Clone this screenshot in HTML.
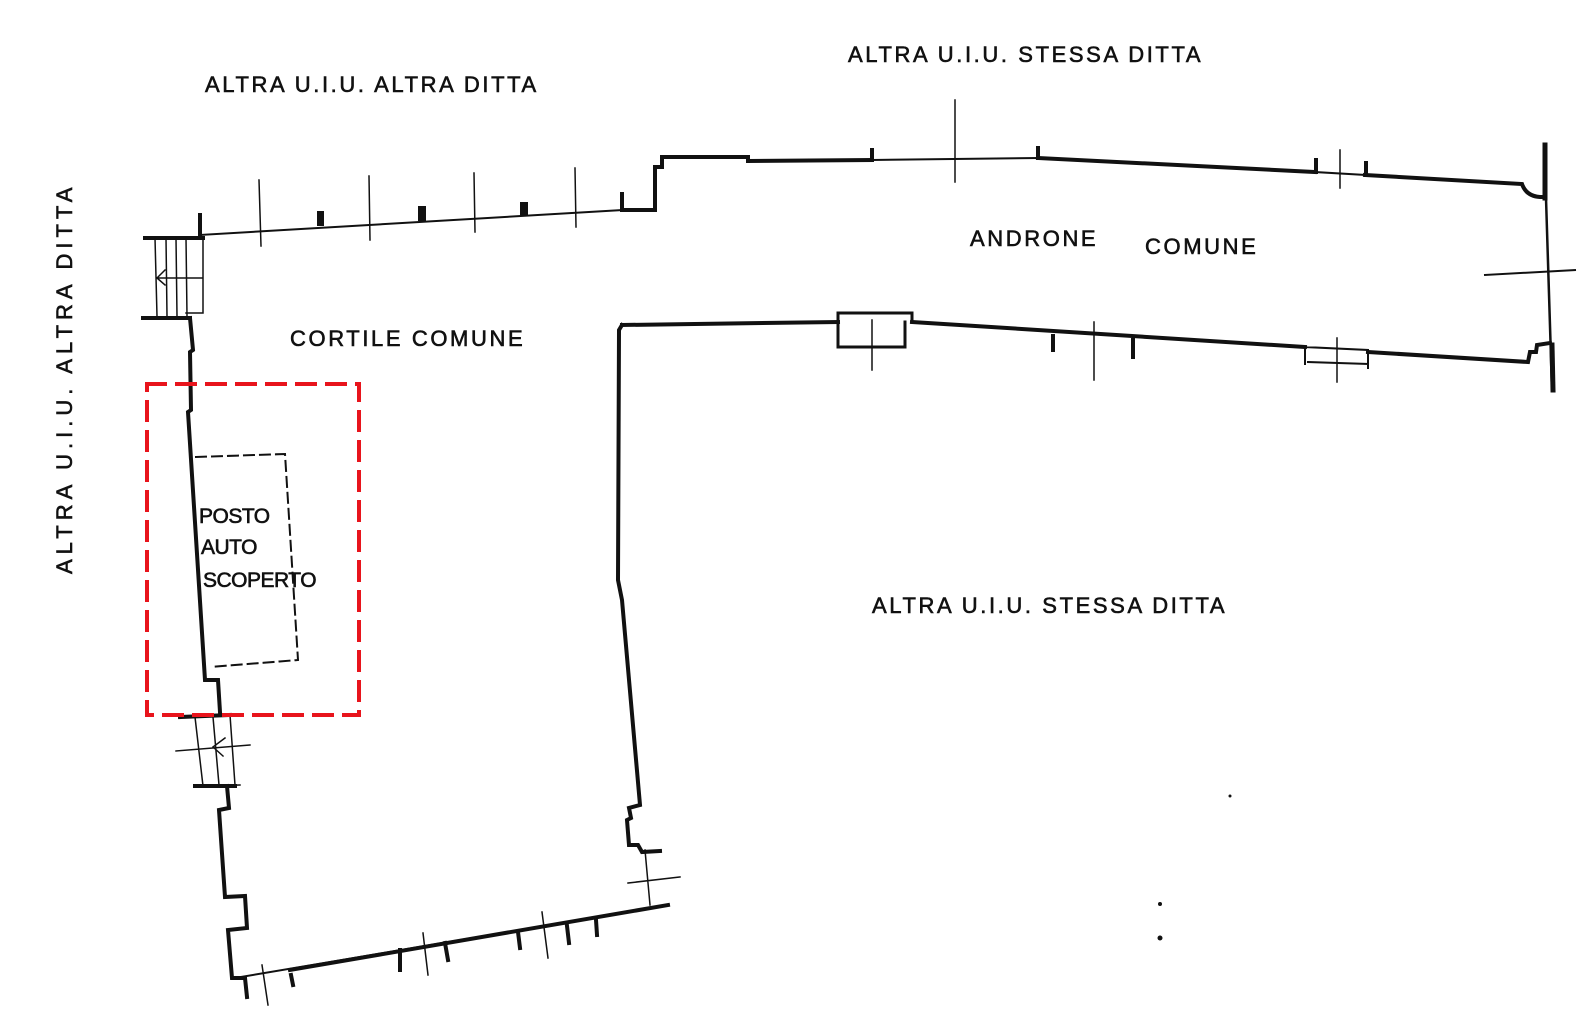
<!DOCTYPE html>
<html><head><meta charset="utf-8"><style>
html,body{margin:0;padding:0;background:#fff;}
svg{display:block}
text{font-family:"Liberation Sans",sans-serif;fill:#111;stroke:#111;stroke-width:0.6;}
</style></head><body>
<svg width="1580" height="1036" viewBox="0 0 1580 1036" xmlns="http://www.w3.org/2000/svg">
<g stroke="#111" fill="none" stroke-linecap="square">
<path d="M200,235 L622,210" stroke-width="2"/>
<path d="M200,215 L200,238" stroke-width="4"/>
<path d="M622,210 L622,194 M622,210 L655,210 L655,167 L662,167 L662,157 L748,157 L748,161" stroke-width="4"/>
<path d="M748,161 L872,160" stroke-width="4"/>
<path d="M872,160 L1038,158" stroke-width="2"/>
<path d="M1038,158 L1315,172" stroke-width="4"/>
<path d="M1315,172 L1365,175" stroke-width="2"/>
<path d="M1365,175 L1522,184 Q1526,196 1540,197 L1545,197" stroke-width="4"/>
<path d="M1545,145 L1545,198" stroke-width="5"/>
<path d="M1546,198 L1552,390" stroke-width="2.5"/>
<path d="M1552,345 L1553,390" stroke-width="5"/>
<path d="M1485,275 L1575,270" stroke-width="2"/>
<path d="M872,160 L872,150 M1038,158 L1038,148 M1316,172 L1316,160 M1366,175 L1366,163 M622,210 L622,194" stroke-width="4"/>
<path d="M955,100 L955,182 M1340,150 L1340,188 M259,180 L261,246 M369,176 L370,240 M474,173 L475,232 M575,168 L576,227" stroke-width="1.5"/>
<rect x="317" y="211" width="7" height="15" fill="#111" stroke="none"/>
<rect x="418" y="206" width="8" height="15" fill="#111" stroke="none"/>
<rect x="520" y="202" width="8" height="13" fill="#111" stroke="none"/>
<path d="M145,238 L203,238 M143,318 L190,318" stroke-width="4"/>
<path d="M155,238 L157,316 M166,238 L167,316 M176,238 L177,316 M186,238 L187,316 M203,238 L203,313 L186,313 M157,278 L203,278 M157,278 L165,270 M157,278 L165,285" stroke-width="1.5"/>
<path d="M190,318 L193,350 L190,352 L191,410 L188,412 L205,680 L218,680 L220,712" stroke-width="4"/>
<path d="M180,717 L230,715" stroke-width="4"/>
<path d="M195,717 L203,786 M213,717 L219,785 L235,785 L230,715 M196,786 L240,785 M176,751 L250,745 M213,747 L225,738 M213,747 L223,756" stroke-width="1.5"/>
<path d="M195,786 L235,786" stroke-width="4"/>
<path d="M227,786 L229,808 L219,810 L225,897 L245,896 L247,928 L228,930 L232,978 L245,978" stroke-width="4"/>
<path d="M235,978 L668,905" stroke-width="2"/>
<path d="M290,970 L668,905" stroke-width="4"/>
<path d="M245,978 L247,997 M291,975 L293,985 M400,950 L400,970 M445,943 L448,960 M518,932 L520,948 M567,926 L569,943 M596,920 L597,935" stroke-width="4"/>
<path d="M262,965 L268,1005 M423,933 L428,975 M542,912 L548,958" stroke-width="1.5"/>
<path d="M622,325 L838,322" stroke-width="4"/>
<path d="M622,325 L619,330 L618,580 L622,600 L640,805 L629,808 L631,818 L627,820 L629,845 L638,845 L642,852 L660,851" stroke-width="4"/>
<path d="M645,850 L650,905 M628,883 L680,877" stroke-width="1.5"/>
<path d="M838,347 L838,313 L912,313 L912,322 M838,347 L905,347 L905,322" stroke-width="3"/>
<path d="M912,322 L1305,347" stroke-width="4"/>
<path d="M872,320 L872,370 M1094,322 L1094,380 M1337,338 L1337,382" stroke-width="1.5"/>
<path d="M1053,336 L1053,350 M1133,340 L1133,357" stroke-width="4"/>
<path d="M1305,347 L1305,364 M1305,347 L1368,350 L1368,368 M1308,362 L1368,364" stroke-width="2"/>
<path d="M1368,352 L1528,362 L1530,352 L1536,352 L1537,345 L1550,343" stroke-width="4"/>
<path d="M196,457 L285,454 L298,660 L210,667" stroke-width="2" stroke-dasharray="10,6"/>
<rect x="147" y="384" width="212" height="331" stroke="#e8141c" stroke-width="4" stroke-dasharray="18,12"/>
</g>
<g font-size="22" letter-spacing="2.6">
<text x="205" y="92">ALTRA  U.I.U. ALTRA  DITTA</text>
<text x="848" y="62">ALTRA  U.I.U.  STESSA  DITTA</text>
<text x="970" y="246">ANDRONE</text>
<text x="1145" y="254">COMUNE</text>
<text x="290" y="346">CORTILE  COMUNE</text>
<text x="872" y="613">ALTRA  U.I.U.  STESSA  DITTA</text>
<text transform="translate(72,574) rotate(-90)" letter-spacing="5">ALTRA  U.I.U.  ALTRA  DITTA</text>
</g>
<g font-size="21" letter-spacing="-0.5">
<text x="199" y="523">POSTO</text>
<text x="201" y="554">AUTO</text>
<text x="203" y="587">SCOPERTO</text>
</g>
<g fill="#111"><circle cx="1160" cy="904" r="2"/><circle cx="1160" cy="938" r="2.5"/><circle cx="1230" cy="796" r="1.5"/></g>
</svg>
</body></html>
